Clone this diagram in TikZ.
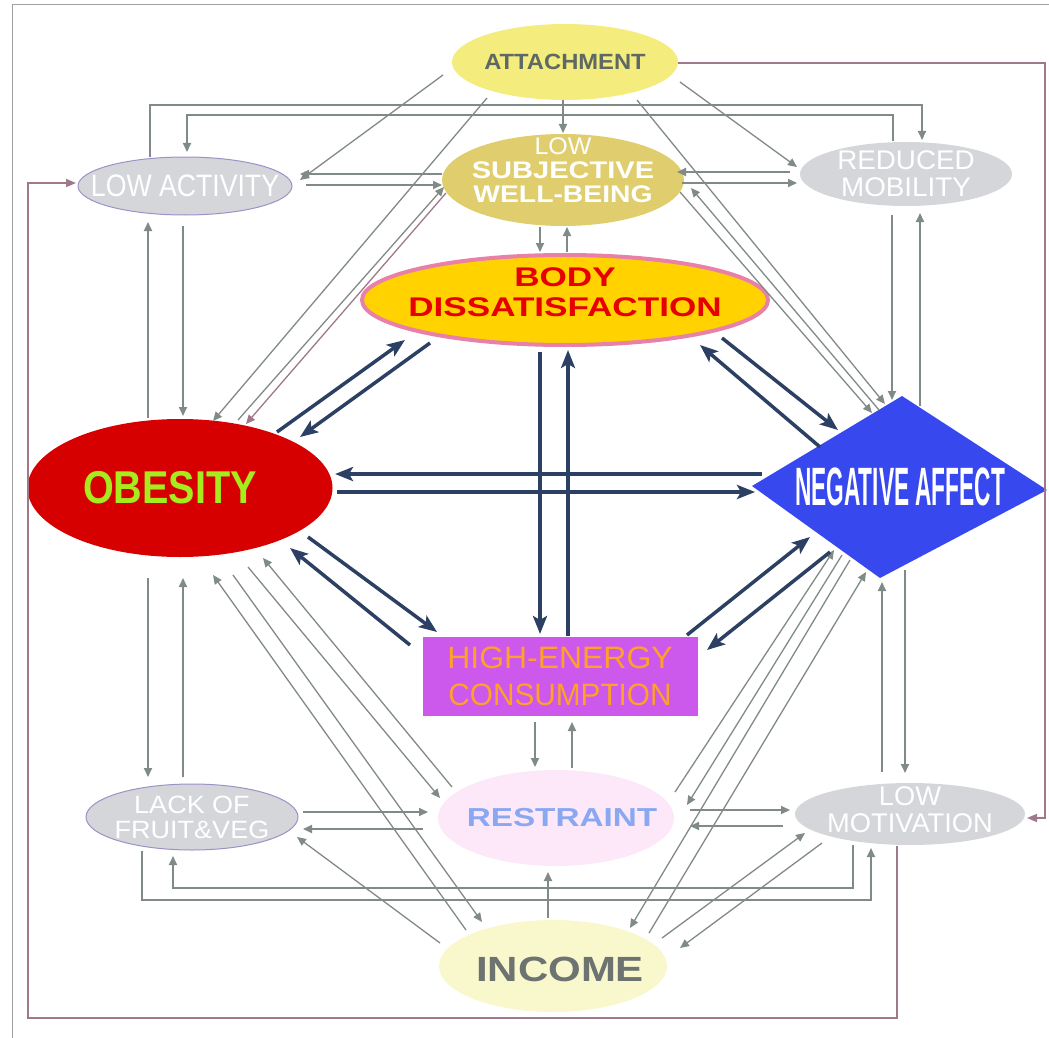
\documentclass[tikz,border=0pt]{standalone}
\usepackage{fontspec}
\setmainfont{Liberation Sans}
\usepackage{graphicx}
\usetikzlibrary{shapes.geometric, arrows.meta}

\definecolor{gris}{HTML}{808A86}
\definecolor{marino}{HTML}{2C4064}
\definecolor{malva}{HTML}{A0788C}
\definecolor{marco}{HTML}{A0A0A0}
\definecolor{attfondo}{HTML}{F4EC7C}
\definecolor{atttexto}{HTML}{5E6864}
\definecolor{lswbfondo}{HTML}{E0CE6E}
\definecolor{grisclaro}{HTML}{D4D6DA}
\definecolor{lila}{HTML}{A090C8}
\definecolor{bdfondo}{HTML}{FFD200}
\definecolor{bdborde}{HTML}{E880A8}
\definecolor{bdtexto}{HTML}{E60000}
\definecolor{obfondo}{HTML}{D60000}
\definecolor{obtexto}{HTML}{A6EB1E}
\definecolor{nafondo}{HTML}{3648EE}
\definecolor{hecfondo}{HTML}{CC58EC}
\definecolor{hectexto}{HTML}{FFA028}
\definecolor{rsfondo}{HTML}{FCE8F8}
\definecolor{rstexto}{HTML}{8AA8F2}
\definecolor{incfondo}{HTML}{F8F8CC}
\definecolor{inctexto}{HTML}{6C7370}

\newcommand{\ancho}[2]{\scalebox{#1}[1]{#2}}

\begin{document}
\begin{tikzpicture}[x=1pt, y=-1pt,
  elip/.style n args={2}{ellipse, inner sep=0pt, minimum width=#1, minimum height=#2},
  garr/.style={draw=gris, line width=1.8pt, -{Triangle[length=9pt,width=8pt]}},
  gfino/.style={garr, line width=1.3pt},
  narr/.style={draw=marino, line width=3.5pt, -{Stealth[length=18pt,width=14pt,inset=4pt]}},
  marr/.style={draw=malva, line width=1.6pt, -{Triangle[length=10pt,width=8pt]}},
  blanco/.style={text=white, align=center},
  ]
\useasboundingbox (0,0) rectangle (1049,1038);

% Marco
\draw[marco, line width=1pt] (12,1038) -- (12,5) -- (1049,5);

% Nodos
\node[elip={226pt}{76pt}, fill=attfondo,
  label={[text=atttexto, font=\bfseries\fontsize{22}{24}\selectfont]center:\ancho{1.08}{ATTACHMENT}}] (att) at (565,62) {};
\node[elip={242pt}{92pt}, fill=lswbfondo,
  label={[blanco, yshift=10pt, font=\bfseries\fontsize{24}{24}\selectfont]center:{{\mdseries\ancho{1.04}{LOW}}\\\ancho{1.21}{SUBJECTIVE}\\\ancho{1.18}{WELL-BEING}}}] (lswb) at (563,180) {};
\node[elip={214pt}{58pt}, fill=grisclaro, draw=lila, line width=1pt,
  label={[blanco, font=\fontsize{31}{33}\selectfont]center:\ancho{0.86}{LOW ACTIVITY}}] (la) at (185,186) {};
\node[elip={212pt}{64pt}, fill=grisclaro,
  label={[blanco, font=\fontsize{27}{27}\selectfont]center:{\ancho{1.03}{REDUCED}\\\ancho{1.03}{MOBILITY}}}] (rm) at (906,174) {};
\node[elip={406pt}{90pt}, fill=bdfondo, draw=bdborde, line width=4pt,
  label={[text=bdtexto, align=center, yshift=8pt, font=\bfseries\fontsize{27}{30}\selectfont]center:{\ancho{1.3}{BODY}\\\ancho{1.3}{DISSATISFACTION}}}] (bd) at (565,300) {};
\node[elip={305pt}{138pt}, fill=obfondo,
  label={[text=obtexto, xshift=-10pt, font=\bfseries\fontsize{46}{50}\selectfont]center:\ancho{0.86}{OBESITY}}] (ob) at (180,488) {};
\fill[nafondo] (752,486) -- (902,396) -- (1047,490) -- (880,578) -- cycle;
\node[text=white, font=\bfseries\fontsize{54}{58}\selectfont] (na) at (900,487) {\ancho{0.42}{NEGATIVE AFFECT}};
\node[rectangle, fill=hecfondo, minimum width=275pt, minimum height=79pt, inner sep=0pt,
  text=hectexto, align=center, font=\fontsize{31}{37}\selectfont] (hec) at (560,676) {\ancho{1.03}{HIGH-ENERGY}\\\ancho{0.96}{CONSUMPTION}};
\node[elip={236pt}{96pt}, fill=rsfondo,
  label={[text=rstexto, xshift=6pt, font=\bfseries\fontsize{26}{28}\selectfont]center:\ancho{1.28}{RESTRAINT}}] (rs) at (556,818) {};
\node[elip={212pt}{66pt}, fill=grisclaro, draw=lila, line width=1pt,
  label={[blanco, font=\fontsize{25}{25}\selectfont]center:{\ancho{1.08}{LACK OF}\\\ancho{1.08}{FRUIT\&VEG}}}] (lfv) at (192,817) {};
\node[elip={230pt}{62pt}, fill=grisclaro,
  label={[blanco, yshift=4pt, font=\fontsize{27}{27}\selectfont]center:{\ancho{1.01}{LOW}\\\ancho{1.01}{MOTIVATION}}}] (lm) at (910,814) {};
\node[elip={228pt}{92pt}, fill=incfondo,
  label={[text=inctexto, xshift=7pt, yshift=-3pt, font=\bfseries\fontsize{35}{38}\selectfont]center:\ancho{1.2}{INCOME}}] (inc) at (553,966) {};

% Flechas grises arriba
\draw[gfino] ([shift={(-122,13)}]att.center) -- ([shift={(115,-6)}]la.center);
\draw[garr] ([shift={(-2,38)}]att.center) -- ([shift={(0,-47)}]lswb.center);
\draw[gfino] ([shift={(115,20)}]att.center) -- ([shift={(-109,-7)}]rm.center);
\draw[gfino] ([shift={(-78,36)}]att.center) -- ([shift={(33,-67)}]ob.center);
\draw[gfino] ([shift={(72,38)}]att.center) -- ([shift={(-15,-83)}]na.center);
\draw[garr] ([shift={(-35,-29)}]la.center) -- ++(0,-52) -| ([shift={(16,-34)}]rm.center);
\draw[garr] ([shift={(-13,-33)}]rm.center) -- ++(0,-26) -| ([shift={(2,-34)}]la.center);
\draw[garr] ([shift={(-121,-6)}]lswb.center) -- ([shift={(115,-12)}]la.center);
\draw[garr] ([shift={(121,-1)}]la.center) -- ([shift={(-121,5)}]lswb.center);
\draw[garr] ([shift={(-116,-2)}]rm.center) -- ([shift={(114,-8)}]lswb.center);
\draw[garr] ([shift={(119,3)}]lswb.center) -- ([shift={(-109,9)}]rm.center);
\draw[gfino] ([shift={(58,-68)}]ob.center) -- ([shift={(-119,7)}]lswb.center);
\draw[gfino, draw=malva] ([shift={(-117,13)}]lswb.center) -- ([shift={(66,-64)}]ob.center);
\draw[gfino] ([shift={(117,12)}]lswb.center) -- ([shift={(-28,-74)}]na.center);
\draw[gfino] ([shift={(-21,-77)}]na.center) -- ([shift={(128,8)}]lswb.center);
\draw[garr] ([shift={(-23,47)}]lswb.center) -- ([shift={(-25,-48)}]bd.center);
\draw[garr] ([shift={(2,-48)}]bd.center) -- ([shift={(4,47)}]lswb.center);

% Flechas grises laterales
\draw[garr] ([shift={(-14,41)}]rm.center) -- ([shift={(-8,-87)}]na.center);
\draw[garr] ([shift={(20,-81)}]na.center) -- ([shift={(14,39)}]rm.center);
\draw[garr] ([shift={(-2,40)}]la.center) -- ([shift={(3,-72)}]ob.center);
\draw[garr] ([shift={(-32,-70)}]ob.center) -- ([shift={(-37,36)}]la.center);
\draw[garr] ([shift={(-32,90)}]ob.center) -- ([shift={(-44,-40)}]lfv.center);
\draw[garr] ([shift={(-9,-40)}]lfv.center) -- ([shift={(3,90)}]ob.center);
\draw[garr] ([shift={(-28,-42)}]lm.center) -- ([shift={(-18,95)}]na.center);
\draw[garr] ([shift={(5,83)}]na.center) -- ([shift={(-5,-41)}]lm.center);

% Flechas grises abajo
\draw[gfino] ([shift={(-87,-36)}]inc.center) -- ([shift={(33,87)}]ob.center);
\draw[gfino] ([shift={(53,87)}]ob.center) -- ([shift={(-71,-44)}]inc.center);
\draw[gfino] ([shift={(68,79)}]ob.center) -- ([shift={(-116,-20)}]rs.center);
\draw[gfino] ([shift={(-104,-31)}]rs.center) -- ([shift={(83,70)}]ob.center);
\draw[garr] ([shift={(111,-5)}]lfv.center) -- ([shift={(-128,-6)}]rs.center);
\draw[garr] ([shift={(-133,11)}]rs.center) -- ([shift={(111,12)}]lfv.center);
\draw[gfino] ([shift={(-113,-23)}]inc.center) -- ([shift={(105,20)}]lfv.center);
\draw[garr] ([shift={(-57,31)}]lm.center) -- ++(0,43) -| ([shift={(-19,39)}]lfv.center);
\draw[garr] ([shift={(-50,34)}]lfv.center) -- ++(0,49) -| ([shift={(-39,34)}]lm.center);
\draw[gfino] ([shift={(-58,68)}]na.center) -- ([shift={(131,-13)}]rs.center);
\draw[gfino] ([shift={(119,-26)}]rs.center) -- ([shift={(-66,63)}]na.center);
\draw[gfino] ([shift={(-50,73)}]na.center) -- ([shift={(77,-38)}]inc.center);
\draw[gfino] ([shift={(96,-33)}]inc.center) -- ([shift={(-34,85)}]na.center);
\draw[garr] ([shift={(134,-8)}]rs.center) -- ([shift={(-120,-4)}]lm.center);
\draw[garr] ([shift={(-127,12)}]lm.center) -- ([shift={(134,8)}]rs.center);
\draw[gfino] ([shift={(109,-28)}]inc.center) -- ([shift={(-105,19)}]lm.center);
\draw[gfino] ([shift={(-88,29)}]lm.center) -- ([shift={(127,-18)}]inc.center);
\draw[garr] ([shift={(-25,46)}]hec.center) -- ([shift={(-21,-51)}]rs.center);
\draw[garr] ([shift={(16,-50)}]rs.center) -- ([shift={(12,46)}]hec.center);
\draw[garr] ([shift={(-5,-48)}]inc.center) -- ([shift={(-8,54)}]rs.center);

% Flechas azules
\draw[narr] ([shift={(97,-56)}]ob.center) -- ([shift={(-160,40)}]bd.center);
\draw[narr] ([shift={(-135,43)}]bd.center) -- ([shift={(120,-51)}]ob.center);
\draw[narr] ([shift={(157,38)}]bd.center) -- ([shift={(-62,-57)}]na.center);
\draw[narr] ([shift={(-80,-40)}]na.center) -- ([shift={(135,45)}]bd.center);
\draw[narr] ([shift={(-138,-13)}]na.center) -- ([shift={(155,-14)}]ob.center);
\draw[narr] ([shift={(157,4)}]ob.center) -- ([shift={(-145,5)}]na.center);
\draw[narr] ([shift={(-25,52)}]bd.center) -- ([shift={(-20,-42)}]hec.center);
\draw[narr] ([shift={(8,-40)}]hec.center) -- ([shift={(3,50)}]bd.center);
\draw[narr] ([shift={(128,49)}]ob.center) -- ([shift={(-123,-44)}]hec.center);
\draw[narr] ([shift={(-150,-31)}]hec.center) -- ([shift={(110,60)}]ob.center);
\draw[narr] ([shift={(127,-41)}]hec.center) -- ([shift={(-90,50)}]na.center);
\draw[narr] ([shift={(-70,65)}]na.center) -- ([shift={(147,-26)}]hec.center);

% Lineas malva
\draw[marr] ([shift={(113,1)}]att.center) -- ++(367,0) |- ([shift={(117,4)}]lm.center);
\draw[marr] ([shift={(-13,32)}]lm.center) -- ++(0,172) -- ++(-869,0) |- ([shift={(-109,-3)}]la.center);
\end{tikzpicture}
\end{document}
